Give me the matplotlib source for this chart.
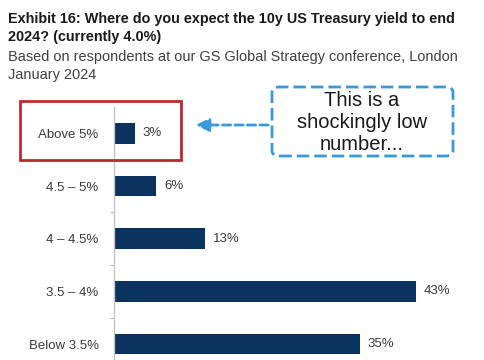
import matplotlib
matplotlib.use("Agg")
import matplotlib.pyplot as plt
from matplotlib.patches import Rectangle, FancyBboxPatch, FancyArrowPatch

# Survey answers: where will the 10y UST yield end 2024
categories = ["Above 5%", "4.5 – 5%", "4 – 4.5%", "3.5 – 4%", "Below 3.5%"]
shares = [3, 6, 13, 43, 35]
value_labels = ["3%", "6%", "13%", "43%", "35%"]

title = "Exhibit 16: Where do you expect the 10y US Treasury yield to end\n2024? (currently 4.0%)"
subtitle = "Based on respondents at our GS Global Strategy conference, London\nJanuary 2024"
callout = "This is a\nshockingly low\nnumber..."

W, H = 485, 360
navy = "#0b3360"
grey_txt = "#3a3a3a"
blue = "#3a9ad9"
red = "#c0282d"
sans = ["Liberation Sans", "DejaVu Sans"]

fig = plt.figure(figsize=(W / 100, H / 100), dpi=100)
fig.patch.set_facecolor("white")

# axes placed in pixel terms: spine at x=114, from y=107 down to the bottom edge
ax = fig.add_axes([114 / W, 0, 1 - 114 / W, (H - 107) / H])
ypos = list(range(len(categories)))
ax.barh(ypos, shares, height=0.39, color=navy)
ax.set_ylim(4.3, -0.5)
ax.set_xlim(0, 52.8)

for y, v, lab in zip(ypos, shares, value_labels):
    ax.text(v + 1.1, y, lab, va="center", ha="left", fontsize=9.5, color=grey_txt, family=sans)

ax.set_yticks(ypos)
ax.set_yticklabels(categories, fontsize=9.5, color=grey_txt, family=sans)
ax.tick_params(axis="y", length=0, pad=11)
ax.set_yticks([0.5, 1.5, 2.5, 3.5], minor=True)
ax.tick_params(axis="y", which="minor", length=3, color="#bbbbbb", width=0.8)
ax.set_xticks([])
for s in ["top", "right", "bottom"]:
    ax.spines[s].set_visible(False)
ax.spines["left"].set_color("#c4c4c4")
ax.spines["left"].set_linewidth(1.0)

# titles
t1 = fig.text(8 / W, 1 - 12 / H, title, ha="left", va="top", fontsize=10, fontweight="bold",
              color="#1a1a1a", family=sans, linespacing=1.4)
t2 = fig.text(8 / W, 1 - 50 / H, subtitle, ha="left", va="top", fontsize=10,
              color="#404040", family=sans, linespacing=1.4)
# shrink the heading lines so they span about the same width as in the source
r = fig.canvas.get_renderer()
for t in (t1, t2):
    w = t.get_window_extent(r).width
    t.set_fontsize(t.get_fontsize() * 450 / w)

# red highlight box around the top row
fig.patches.append(Rectangle((20 / W, 1 - 160 / H), 161 / W, 59 / H, transform=fig.transFigure,
                             fill=False, edgecolor=red, linewidth=2))

# dashed callout box
fig.patches.append(FancyBboxPatch((272 / W, 1 - 156 / H), 181 / W, 69 / H,
                                  boxstyle="round,pad=0,rounding_size=0.015",
                                  transform=fig.transFigure, fill=False, edgecolor=blue,
                                  linewidth=2, linestyle=(0, (4.5, 1.8))))
fig.text(362 / W, 1 - 123 / H, callout, ha="center", va="center", fontsize=14.5,
         color="#1a1a1a", family=sans, linespacing=1.2)

# dashed arrow from callout to the 3% bar
fig.patches.append(FancyArrowPatch(
    (271 / W, 1 - 125 / H), (193 / W, 1 - 125 / H), transform=fig.transFigure,
    arrowstyle="-|>,head_length=8,head_width=4", color=blue, linewidth=2,
    linestyle=(0, (3, 1.5)), mutation_scale=1))

fig.savefig("out.png", dpi=100)
